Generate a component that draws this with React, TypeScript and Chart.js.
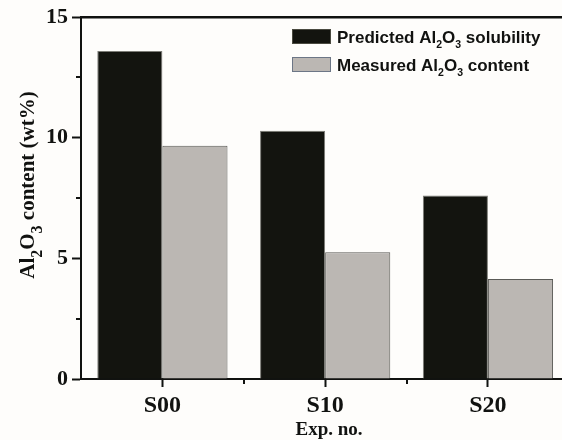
import React, { useEffect, useRef } from 'react';
import { Chart, registerables } from 'chart.js';

Chart.register(...registerables);

const categories = ['S00', 'S10', 'S20'];
const predicted = [13.6, 10.29, 7.61];
const measured = [9.67, 5.26, 4.15];
const yMajorTicks = [0, 5, 10, 15];
const yMinorTicks = [2.5, 7.5, 12.5];
const xMinorTicks = [0.5, 1.5];

const SERIF = "'Liberation Serif','Times New Roman',serif";
const SANS = "'Liberation Sans',Arial,sans-serif";
const BG = '#fefdfb';
const INK = '#111210';

type Seg = [string, boolean];

function richWidth(ctx: CanvasRenderingContext2D, segs: Seg[], base: number, sub: number, family: string) {
  let w = 0;
  for (const [t, s] of segs) {
    ctx.font = `bold ${s ? sub : base}px ${family}`;
    w += ctx.measureText(t).width;
  }
  return w;
}

function drawRich(ctx: CanvasRenderingContext2D, segs: Seg[], x: number, y: number, base: number, sub: number, family: string, subShift: number) {
  let cx = x;
  for (const [t, s] of segs) {
    ctx.font = `bold ${s ? sub : base}px ${family}`;
    ctx.fillText(t, cx, y + (s ? subShift : 0));
    cx += ctx.measureText(t).width;
  }
}

const decorPlugin = {
  id: 'decor',
  beforeDraw(chart: any) {
    const ctx = chart.ctx as CanvasRenderingContext2D;
    ctx.save();
    ctx.fillStyle = BG;
    ctx.fillRect(0, 0, chart.width, chart.height);
    ctx.restore();
  },
  afterDraw(chart: any) {
    const ctx = chart.ctx as CanvasRenderingContext2D;
    const { left, right, top, bottom } = chart.chartArea;
    const xs = chart.scales.x;
    const ys = chart.scales.y;
    ctx.save();
    ctx.strokeStyle = INK;
    // top frame line
    ctx.lineWidth = 2.5;
    ctx.beginPath();
    ctx.moveTo(left - 1, top);
    ctx.lineTo(right, top);
    ctx.stroke();
    // minor ticks
    ctx.lineWidth = 2;
    ctx.beginPath();
    for (const v of yMinorTicks) {
      const py = Math.round(ys.getPixelForValue(v));
      ctx.moveTo(left - 5, py);
      ctx.lineTo(left, py);
    }
    for (const v of xMinorTicks) {
      const px = Math.round(xs.getPixelForValue(v));
      ctx.moveTo(px, bottom);
      ctx.lineTo(px, bottom + 5);
    }
    ctx.stroke();

    ctx.fillStyle = INK;
    // x axis title
    ctx.textAlign = 'center';
    ctx.textBaseline = 'alphabetic';
    ctx.font = `bold 19px ${SERIF}`;
    ctx.fillText('Exp. no.', 329, 435);

    // y axis title (rotated)
    const ySegs: Seg[] = [['Al', false], ['2', true], ['O', false], ['3', true], [' content (wt%)', false]];
    ctx.textAlign = 'left';
    const w = richWidth(ctx, ySegs, 21, 16, SERIF);
    ctx.translate(34, 185);
    ctx.rotate(-Math.PI / 2);
    drawRich(ctx, ySegs, -w / 2, 0, 21, 16, SERIF, 8);
    ctx.setTransform(1, 0, 0, 1, 0, 0);

    // legend
    const items: { segs: Seg[]; fill: string; border: string }[] = [
      { segs: [['Predicted Al', false], ['2', true], ['O', false], ['3', true], [' solubility', false]], fill: '#13140f', border: '#4a4a40' },
      { segs: [['Measured Al', false], ['2', true], ['O', false], ['3', true], [' content', false]], fill: '#bbb7b3', border: '#6c7686' },
    ];
    items.forEach((it, i) => {
      const by = 29 + i * 28;
      ctx.fillStyle = it.fill;
      ctx.fillRect(292, by, 39, 15);
      ctx.strokeStyle = it.border;
      ctx.lineWidth = 1;
      ctx.strokeRect(292.5, by + 0.5, 38, 14);
      ctx.fillStyle = INK;
      drawRich(ctx, it.segs, 337, by + 14, 17, 10.5, SANS, 5);
    });
    ctx.restore();
  },
};

export default function App() {
  const ref = useRef<HTMLCanvasElement | null>(null);
  useEffect(() => {
    if (!ref.current) return;
    const chart = new Chart(ref.current, {
      type: 'bar',
      data: {
        datasets: [
          {
            label: 'Predicted Al2O3 solubility',
            data: categories.map((_, i) => ({ x: i, y: predicted[i] })),
            backgroundColor: '#13140f',
            borderColor: '#7c7c76',
            borderWidth: 1,
            categoryPercentage: 0.8,
            barPercentage: 1.0,
          },
          {
            label: 'Measured Al2O3 content',
            data: categories.map((_, i) => ({ x: i, y: measured[i] })),
            backgroundColor: '#bbb7b3',
            borderColor: '#5a5a56',
            borderWidth: 1,
            categoryPercentage: 0.8,
            barPercentage: 1.0,
          },
        ],
      } as any,
      options: {
        animation: false,
        responsive: false,
        layout: { padding: { top: 15, left: 0, right: 0, bottom: 0 } },
        plugins: {
          legend: { display: false },
          tooltip: { enabled: false },
        },
        scales: {
          x: {
            type: 'linear',
            offset: false,
            min: -0.5,
            max: 2.455,
            afterBuildTicks: (scale: any) => {
              scale.ticks = categories.map((_, i) => ({ value: i }));
            },
            afterFit: (scale: any) => {
              scale.height = 61;
            },
            ticks: {
              callback: (v: any) => categories[Math.round(Number(v))] ?? '',
              font: { family: SERIF, size: 24, weight: 'bold' },
              color: INK,
              padding: 4,
              maxRotation: 0,
              autoSkip: false,
            },
            grid: {
              display: true,
              offset: false,
              drawOnChartArea: false,
              drawTicks: true,
              tickLength: 8,
              tickWidth: 2,
              tickColor: INK,
            },
            border: { display: true, color: INK, width: 2 },
          },
          y: {
            min: 0,
            max: 15,
            afterBuildTicks: (scale: any) => {
              scale.ticks = yMajorTicks.map((v) => ({ value: v }));
            },
            afterFit: (scale: any) => {
              scale.width = 81;
            },
            ticks: {
              callback: (v: any) => String(v),
              font: { family: SERIF, size: 22, weight: 'bold' },
              color: INK,
              padding: 4,
            },
            grid: {
              display: true,
              drawOnChartArea: false,
              drawTicks: true,
              tickLength: 9,
              tickWidth: 2,
              tickColor: INK,
            },
            border: { display: true, color: INK, width: 2 },
          },
        },
      } as any,
      plugins: [decorPlugin],
    });
    return () => chart.destroy();
  }, []);
  return (
    <div style={{ position: 'absolute', left: 0, top: 0, width: 562, height: 440, background: BG }}>
      <canvas ref={ref} width={562} height={440} style={{ display: 'block' }} />
    </div>
  );
}
